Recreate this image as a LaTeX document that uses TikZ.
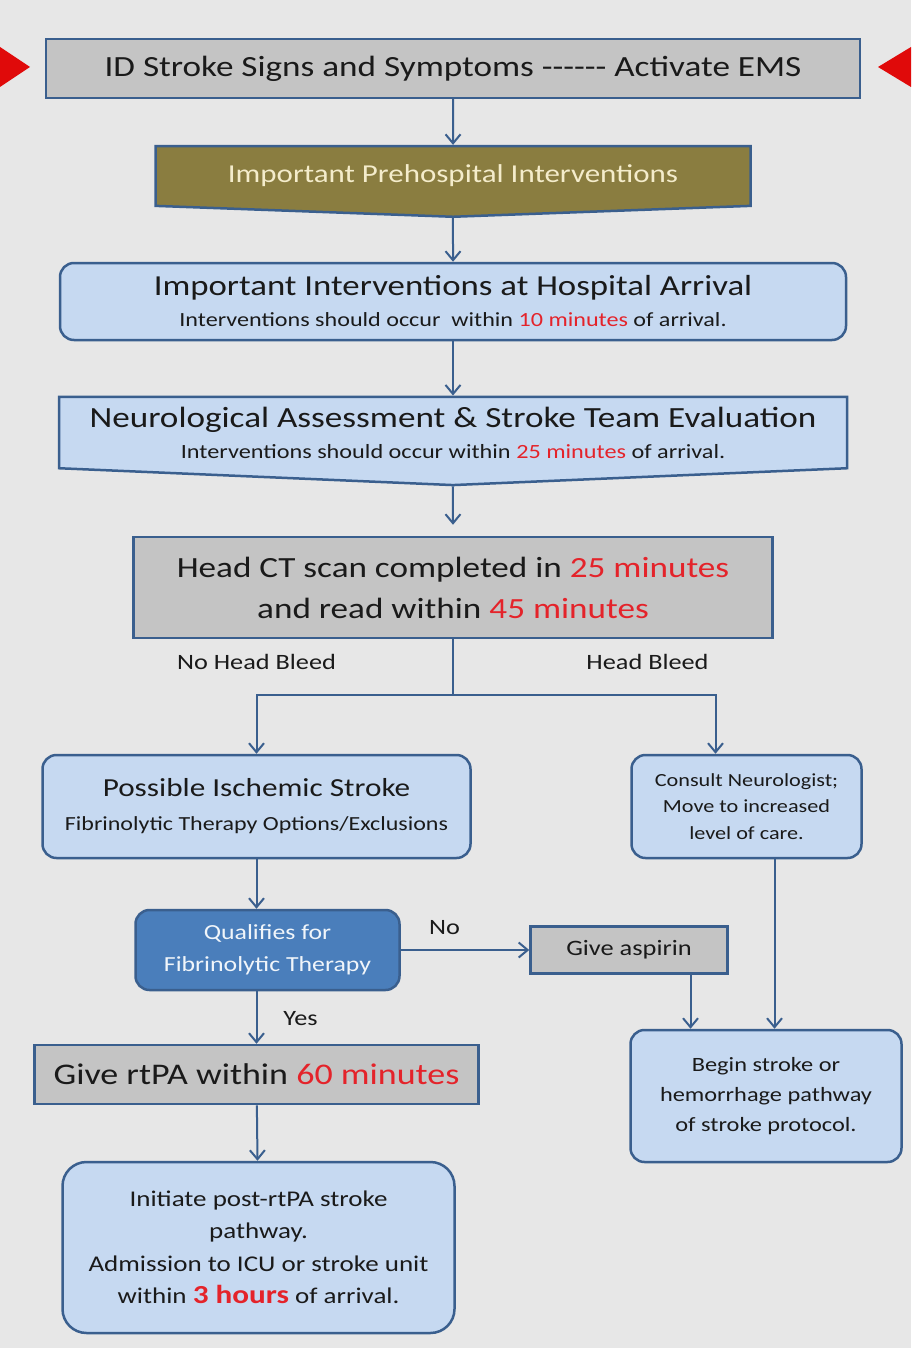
\documentclass[tikz,border=0pt]{standalone}
\usepackage{fontspec}
\setmainfont{Carlito}[Ligatures=TeXOff, FakeStretch=1.2]
\usetikzlibrary{arrows.meta,positioning,shapes.symbols}

\definecolor{bg}{HTML}{E7E7E7}
\definecolor{edge}{HTML}{3A5F8E}
\definecolor{ink}{HTML}{1A1A1A}
\definecolor{boxgray}{HTML}{C4C4C4}
\definecolor{paleblue}{HTML}{C6D9F1}
\definecolor{midblue}{HTML}{4A7EBB}
\definecolor{olive}{HTML}{8A7D40}
\definecolor{olivetext}{HTML}{F4ECCB}
\definecolor{hotred}{HTML}{E4232A}
\definecolor{signred}{HTML}{E00A0A}

\newcommand{\fs}[2]{\fontsize{#1}{#2}\selectfont}
\newcommand{\hot}[1]{\textcolor{hotred}{#1}}

\tikzset{
  box/.style={draw=edge, line width=2.5pt, inner sep=0pt, align=center, text=ink},
  graybox/.style={box, rectangle, fill=boxgray},
  bluebox/.style={box, rectangle, rounded corners=14pt, fill=paleblue},
  qualbox/.style={bluebox, fill=midblue, text=white!92!midblue},
  chevron/.style={box, signal, signal to=south, signal from=nowhere},
  flow/.style={draw=edge, line width=2pt, -{Straight Barb[length=9pt,width=15pt,line width=2pt]}},
  lbl/.style={font=\fs{21.9}{24}, text=ink}
}

\begin{document}
\begin{tikzpicture}[x=1pt,y=1pt,on grid]
\fill[bg] (0,0) rectangle (911,-1348);
\useasboundingbox (0,0) rectangle (911,-1348);
\fill[signred] (0,-47) -- (30,-67) -- (0,-87) -- cycle;
\fill[signred] (911,-47) -- (878,-67) -- (911,-87) -- cycle;

\node[graybox, minimum width=814, minimum height=59, font=\fs{29.3}{32}] (ems) at (453,-68.5)
  {ID Stroke Signs and Symptoms ------ Activate EMS};
\node[chevron, fill=olive, text=olivetext, minimum width=595, minimum height=68,
  signal pointer angle=175.8, font=\fs{25.8}{28}] [below=107.5pt of ems] (prehosp)
  {Important Prehospital Interventions};
\node[bluebox, minimum width=786, minimum height=77, font=\fs{29}{31}] [below=125.5pt of prehosp] (arrival)
  {Important Interventions at Hospital Arrival\\
   {\fs{20.1}{22}Interventions should occur\ \ within \hot{10 minutes} of arrival.}};
\node[chevron, fill=paleblue, minimum width=788, minimum height=87,
  signal pointer angle=175.1, font=\fs{29.3}{31}] [below=131pt of arrival] (neuro)
  {Neurological Assessment \& Stroke Team Evaluation\\
   {\fs{20.2}{22}Interventions should occur within \hot{25 minutes} of arrival.}};
\node[graybox, minimum width=639, minimum height=101, font=\fs{29.3}{41}] [below=155pt of neuro] (ct)
  {Head CT scan completed in \hot{25 minutes}\\and read within \hot{45 minutes}};
\coordinate[below=107.5pt of ct] (split);
\node[lbl] [below left=74.5pt and 196.5pt of ct] (nobleed) {No Head Bleed};
\node[lbl] [below right=74.5pt and 194.5pt of ct] (bleed) {Head Bleed};

\node[bluebox, minimum width=428, minimum height=103, font=\fs{26}{34}] [below left=219pt and 196.5pt of ct] (ischemic)
  {Possible Ischemic Stroke\\{\fs{20}{24}Fibrinolytic Therapy Options/Exclusions}};
\node[bluebox, minimum width=230, minimum height=103, font=\fs{18.5}{26.5}] [right=490pt of ischemic] (consult)
  {Consult Neurologist;\\Move to increased\\level of care.};
\node[qualbox, minimum width=264, minimum height=80, font=\fs{21.5}{32}] [below right=143.5pt and 11pt of ischemic] (qualify)
  {Qualifies for\\Fibrinolytic Therapy};
\node[graybox, minimum width=197, minimum height=47, font=\fs{22}{26}] [right=361.5pt of qualify] (aspirin)
  {Give aspirin};
\node[lbl] [above right=22pt and 177pt of qualify] (no) {No};
\node[lbl] [below right=69pt and 33pt of qualify] (yes) {Yes};
\node[graybox, minimum width=444, minimum height=59, font=\fs{30}{34}] [below left=124.5pt and 11pt of qualify] (rtpa)
  {Give rtPA within \hot{60 minutes}};
\node[bluebox, minimum width=271, minimum height=132, font=\fs{20.3}{30}] [below right=289.5pt and 19.5pt of consult] (pathway)
  {Begin stroke or\\hemorrhage pathway\\of stroke protocol.};
\node[bluebox, rounded corners=24pt, minimum width=392, minimum height=171, font=\fs{22.5}{32.5}] [below right=173pt and 2pt of rtpa] (postrtpa)
  {Initiate post-rtPA stroke\\pathway.\\Admission to ICU or stroke unit\\within \textbf{\fs{26}{32.5}\hot{3 hours}} of arrival.};

\draw[flow] (ems) -- (prehosp);
\draw[flow] (prehosp) -- (arrival);
\draw[flow] (arrival) -- (neuro);
\draw[flow, shorten >=11pt] (neuro) -- (ct);
\draw[draw=edge, line width=2pt] (ct) -- (split);
\draw[flow] (split) -| (ischemic);
\draw[flow] (split) -| ([xshift=-31pt]consult.north);
\draw[flow] (ischemic) -- (ischemic |- qualify.north);
\draw[flow] (qualify.east) -- (qualify.east -| aspirin.west);
\draw[flow] (rtpa |- qualify.south) -- (rtpa);
\draw[flow] ([xshift=61.5pt]aspirin.south) -- ([xshift=61.5pt]aspirin.south |- pathway.north);
\draw[flow] ([xshift=28pt]consult.south) -- ([xshift=28pt]consult.south |- pathway.north);
\draw[flow] (rtpa) -- (postrtpa);
\end{tikzpicture}
\end{document}
